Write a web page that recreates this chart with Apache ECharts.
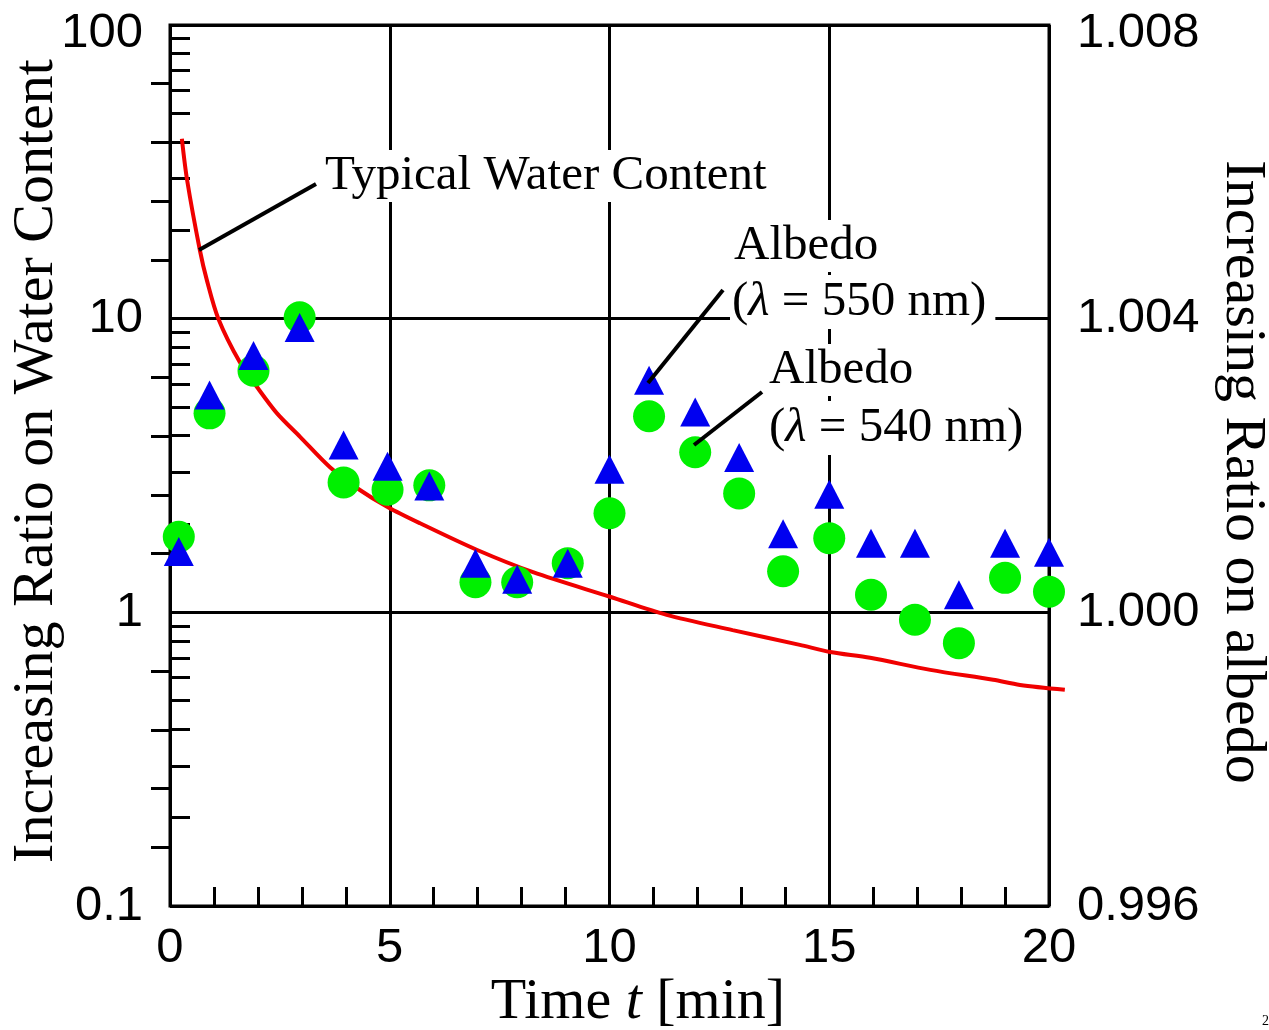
<!DOCTYPE html>
<html>
<head>
<meta charset="utf-8">
<script src="https://cdn.jsdelivr.net/npm/echarts@6/dist/echarts.min.js"></script>
<style>
  html, body { margin: 0; padding: 0; background: #fff; }
  #chart { width: 1269px; height: 1030px; }
</style>
</head>
<body>
<div id="chart"></div>
<script>
// water content curve (left, log axis)
const curveT = [0.27, 0.39, 0.68, 0.84, 1.1, 1.59, 1.98, 2.43, 2.96, 3.64, 4.32, 4.96, 5.69, 6.99, 8.26, 10.01, 11.3, 12.8, 14.33, 15.02, 15.93, 17.3, 18.73, 19.34, 20.36];
const curveV = [41, 29.6, 17.1, 13.5, 10.0, 7.1, 5.85, 4.77, 3.96, 3.12, 2.61, 2.28, 2.01, 1.63, 1.37, 1.13, 0.98, 0.87, 0.775, 0.733, 0.70, 0.637, 0.589, 0.566, 0.545];

// albedo points (right, linear axis)
const albedoT = [0.2, 0.9, 1.9, 2.95, 3.95, 4.95, 5.9, 6.95, 7.9, 9.05, 10, 10.9, 11.95, 12.95, 13.95, 15, 15.95, 16.95, 17.95, 19, 20];
const albedo540 = [1.00103, 1.00271, 1.00329, 1.00402, 1.00177, 1.00167, 1.00173, 1.00041, 1.00041, 1.00067, 1.00135, 1.00267, 1.00218, 1.00162, 1.00056, 1.00101, 1.00024, 0.99990, 0.99958, 1.00047, 1.00028];
const albedo550 = [1.00083, 1.00296, 1.00350, 1.00388, 1.00228, 1.00199, 1.00172, 1.00067, 1.00045, 1.00067, 1.00195, 1.00316, 1.00273, 1.00211, 1.00107, 1.00161, 1.00094, 1.00094, 1.00024, 1.00094, 1.00082];

// tick positions
const xMinorTicks = [1, 2, 3, 4, 6, 7, 8, 9, 11, 12, 13, 14, 16, 17, 18, 19];
const logMinorTicks = [0.2, 0.3, 0.4, 0.5, 0.6, 0.7, 0.8, 0.9, 2, 3, 4, 5, 6, 7, 8, 9, 20, 30, 40, 50, 60, 70, 80, 90];
const rightTicks = [0.9968, 0.9976, 0.9984, 0.9992, 1.0008, 1.0016, 1.0024, 1.0032, 1.0048, 1.0056, 1.0064, 1.0072];

const sans = 'Liberation Sans, Arial, sans-serif';
const serif = 'Liberation Serif, Times New Roman, serif';

const chart = echarts.init(document.getElementById('chart'));

const tickStyle = { color: '#000', width: 3 };
const gridStyle = { color: '#000', width: 3 };
const labelBase = { fontSize: 49, fontFamily: sans, color: '#000' };
// the topmost labels sit a bit lower than their tick
const topRich = { t: { fontSize: 49, fontFamily: sans, color: '#000', padding: [16, 0, 0, 0] } };

// the red curve runs a little past the right frame, so it gets a wider
// invisible grid with the same scale (879 px for 20 min)
const plotW = 879;
const extraW = 16;

chart.setOption({
    animation: false,
    backgroundColor: '#fff',
    grid: [
        {
            left: 170, top: 25, right: 220, bottom: 124,
            show: true, borderColor: '#000', borderWidth: 3
        },
        { left: 170, top: 25, right: 220 - extraW, bottom: 124, show: false }
    ],
    xAxis: [
        {
            type: 'value', min: 0, max: 20, interval: 5, position: 'bottom',
            axisLine: { show: false },
            axisTick: { show: false },
            splitLine: { show: true, lineStyle: gridStyle },
            axisLabel: Object.assign({ margin: 18 }, labelBase)
        },
        {
            // minor ticks only
            type: 'value', min: 0, max: 20, interval: 5, position: 'bottom',
            axisLine: { show: false },
            axisTick: { show: true, inside: true, length: 19, lineStyle: tickStyle, customValues: xMinorTicks },
            splitLine: { show: false },
            axisLabel: { show: false }
        },
        {
            gridIndex: 1, type: 'value', min: 0, max: 20 * (plotW + extraW) / plotW, show: false
        }
    ],
    yAxis: [
        {
            type: 'log', logBase: 10, min: 0.1, max: 100, position: 'left',
            axisLine: { show: false },
            axisTick: { show: false },
            splitLine: { show: true, lineStyle: gridStyle },
            axisLabel: Object.assign({
                margin: 27, rich: topRich,
                formatter: v => {
                    const s = String(+Number(v).toPrecision(3));
                    return s === '100' ? '{t|' + s + '}' : s;
                }
            }, labelBase)
        },
        {
            type: 'value', min: 0.996, max: 1.008, interval: 0.004,
            position: 'right',
            axisLine: { show: false },
            axisTick: { show: true, inside: true, length: 19, lineStyle: tickStyle, customValues: rightTicks },
            splitLine: { show: false },
            axisLabel: Object.assign({
                margin: 28, rich: topRich,
                formatter: v => {
                    const s = Number(v).toFixed(3);
                    return s === '1.008' ? '{t|' + s + '}' : s;
                }
            }, labelBase)
        },
        {
            // log minor ticks only
            type: 'log', logBase: 10, min: 0.1, max: 100, position: 'left',
            axisLine: { show: false },
            axisTick: { show: true, inside: true, length: 20, lineStyle: tickStyle, customValues: logMinorTicks },
            splitLine: { show: false },
            axisLabel: { show: false }
        },
        {
            gridIndex: 1, type: 'log', logBase: 10, min: 0.1, max: 100, show: false
        }
    ],
    series: [
        {
            name: 'Typical Water Content',
            type: 'line',
            xAxisIndex: 2,
            yAxisIndex: 3,
            data: curveT.map((t, i) => [t, curveV[i]]),
            smooth: 0.3,
            showSymbol: false,
            lineStyle: { color: '#f00000', width: 4 },
            z: 3
        },
        {
            name: 'Albedo 540',
            type: 'scatter',
            yAxisIndex: 1,
            data: albedoT.map((t, i) => [t, albedo540[i]]),
            symbol: 'circle',
            symbolSize: 32,
            itemStyle: { color: '#00f000', opacity: 1 },
            z: 4
        },
        {
            name: 'Albedo 550',
            type: 'scatter',
            yAxisIndex: 1,
            data: albedoT.map((t, i) => [t, albedo550[i]]),
            symbol: 'triangle',
            symbolSize: [30, 29],
            itemStyle: { color: '#0000f0', opacity: 1 },
            z: 5
        }
    ],
    graphic: [
        // axis titles
        {
            type: 'text', x: 638, y: 1003, z: 100,
            style: {
                text: 'Time {i|t} [min]', align: 'center', verticalAlign: 'middle',
                font: '58px ' + serif, fill: '#000',
                rich: { i: { fontStyle: 'italic', fontSize: 58, fontFamily: serif } }
            }
        },
        {
            type: 'text', x: 37, y: 461, rotation: Math.PI / 2, z: 100,
            style: {
                text: 'Increasing Ratio on Water Content', align: 'center', verticalAlign: 'middle',
                font: '58px ' + serif, fill: '#000'
            }
        },
        {
            type: 'text', x: 1242, y: 472, rotation: -Math.PI / 2, z: 100,
            style: {
                text: 'Increasing Ratio on albedo', align: 'center', verticalAlign: 'middle',
                font: '58px ' + serif, fill: '#000'
            }
        },
        // annotations
        {
            type: 'text', x: 321, y: 176, z: 100,
            style: {
                text: 'Typical Water Content', verticalAlign: 'middle', lineHeight: 52,
                font: '49px ' + serif, fill: '#000', backgroundColor: '#fff', padding: [0, 4]
            }
        },
        {
            type: 'text', x: 731, y: 246, z: 100,
            style: {
                text: 'Albedo', verticalAlign: 'middle', lineHeight: 52,
                font: '49px ' + serif, fill: '#000', backgroundColor: '#fff', padding: [0, 3]
            }
        },
        {
            type: 'text', x: 730, y: 302, z: 100,
            style: {
                text: '({l|\u03bb} = 550 nm)', verticalAlign: 'middle', lineHeight: 54,
                font: '49px ' + serif, fill: '#000', backgroundColor: '#fff', padding: [0, 9, 0, 2],
                rich: { l: { fontStyle: 'italic', fontSize: 49, fontFamily: serif } }
            }
        },
        {
            type: 'text', x: 766, y: 370, z: 100,
            style: {
                text: 'Albedo', verticalAlign: 'middle', lineHeight: 52,
                font: '49px ' + serif, fill: '#000', backgroundColor: '#fff', padding: [0, 3]
            }
        },
        {
            type: 'text', x: 767, y: 428, z: 100,
            style: {
                text: '({l|\u03bb} = 540 nm)', verticalAlign: 'middle', lineHeight: 54,
                font: '49px ' + serif, fill: '#000', backgroundColor: '#fff', padding: [0, 2],
                rich: { l: { fontStyle: 'italic', fontSize: 49, fontFamily: serif } }
            }
        },
        // leader lines
        { type: 'line', z: 101, shape: { x1: 199, y1: 250, x2: 316, y2: 184 }, style: { stroke: '#000', lineWidth: 4 } },
        { type: 'line', z: 101, shape: { x1: 648, y1: 383, x2: 723, y2: 290 }, style: { stroke: '#000', lineWidth: 4 } },
        { type: 'line', z: 101, shape: { x1: 694, y1: 445, x2: 762, y2: 392 }, style: { stroke: '#000', lineWidth: 4 } },
        // page number fragment
        {
            type: 'text', x: 1262, y: 1014, z: 100,
            style: { text: '2', font: '14px ' + serif, fill: '#000' }
        }
    ]
});
</script>
</body>
</html>
